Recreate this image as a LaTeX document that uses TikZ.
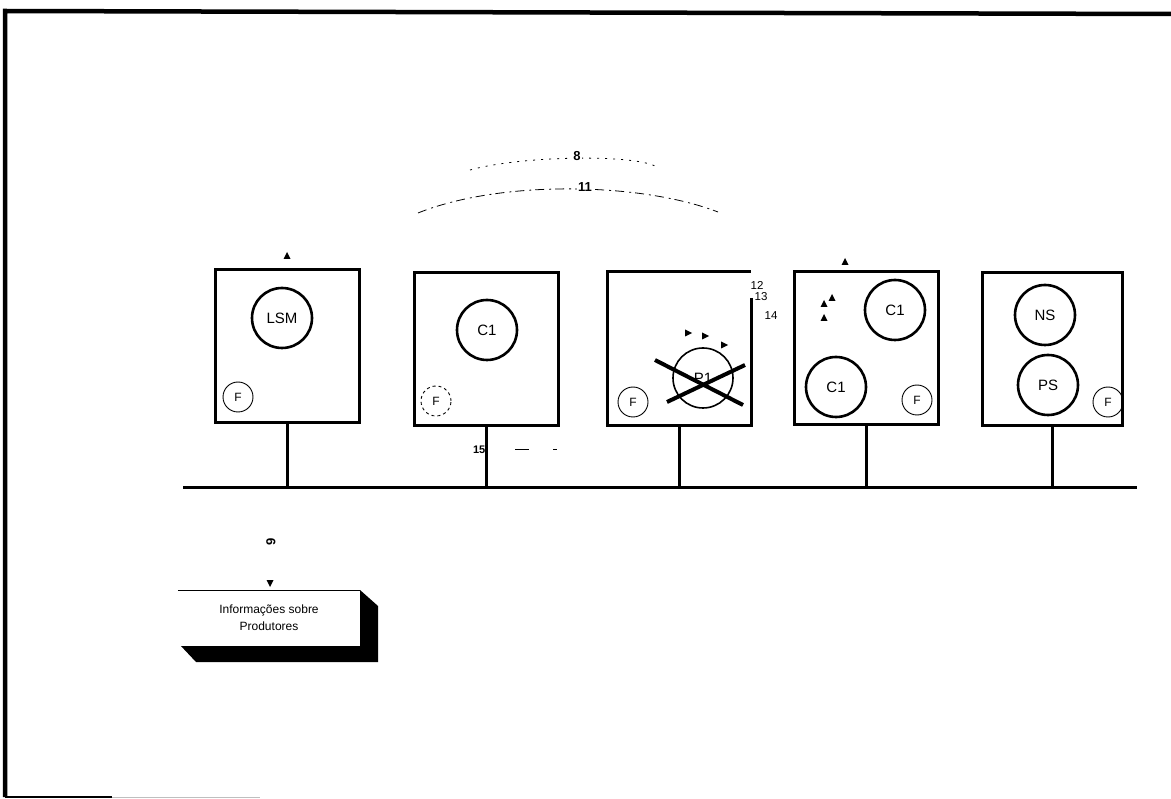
\documentclass[tikz,border=0pt]{standalone}
\usepackage{fontspec}
\setmainfont{Liberation Sans}
\usetikzlibrary{positioning,shapes.geometric}

\tikzset{
  station/.style={draw, line width=3pt, minimum width=144pt,
                  minimum height=153pt, inner sep=0pt},
  proc/.style={draw, circle, line width=2.6pt, minimum size=60pt,
               inner sep=0pt, font=\fontsize{15}{17}\selectfont},
  fport/.style={draw, circle, line width=0.9pt, minimum size=30pt,
                inner sep=0pt, font=\fontsize{12}{14}\selectfont},
  wire/.style={line width=3pt},
  seqlabel/.style={font=\fontsize{13}{15}\selectfont\bfseries},
  smalllabel/.style={font=\fontsize{11.5}{12}\selectfont, inner sep=0pt},
  infobox/.style={fill=white, minimum width=182pt, minimum height=55pt,
                  align=center, inner sep=0pt,
                  font=\fontsize{12}{17}\selectfont}
}

\begin{document}
\begin{tikzpicture}[x=1pt, y=-1pt]
  \useasboundingbox (0,0) rectangle (1171,799);

  %% Frame (open on the right)
  \draw[line width=4.5pt] (5,797) -- (5,11) -- (1171,14);
  \draw[line width=2pt] (5,797) -- (112,797);
  \draw[line width=1pt, black!25] (112,797) -- (260,797);

  %% Bus
  \coordinate (busL) at (183,488);
  \coordinate (busR) at (1137,488);
  \draw[wire] (busL) -- (busR);

  %% Stations
  \node[station] (lsmbox) at (287.5,346.5) {};
  \node[station] (cabox) at (486.5,349.5) {};
  \node[station, draw=none] (pbox) at (679,349) {};
  \node[station] (ccbox) at (866.5,348) {};
  \node[station, minimum width=140pt] (nsbox) at (1052,349.5) {};

  %% third station: right side open at the top
  \draw[line width=3pt] (751,298) |- (607,426) |- (751,272);

  %% Stems to the bus
  \foreach \b in {lsmbox,cabox,pbox,ccbox,nsbox}
    \draw[wire] (\b.south) -- (\b.south |- busL);

  %% Processes
  \node[proc] (lsm) at (282,318) {LSM};
  \node[proc] (ca) at (487,330) {C1};
  \node[proc, line width=1.6pt] (p1) at (703,378) {P1};
  \node[proc] (cb) at (895,310) {C1};
  \node[proc] (cc) at (836,387) {C1};
  \node[proc] (ns) at (1045,315) {NS};
  \node[proc] (ps) at (1048,385) {PS};

  %% F ports
  \node[fport] (f1) at (238,397) {F};
  \node[fport, dashed] (f2) at (436,401) {F};
  \node[fport] (f3) at (633,402) {F};
  \node[fport] (f4) at (917,400) {F};
  \node[fport] (f5) at (1108,402) {F};

  %% P1 crossed out
  \draw[line width=4pt] (655,360) -- (743,405);
  \draw[line width=4pt] (667,402) -- (745,365);

  %% Triangle marks
  \foreach \x/\y in {287/256, 845/262, 824/304, 832/298, 824/318}
    \fill (\x,\y) +(-3.5,3) -- +(3.5,3) -- +(0,-4) -- cycle;
  \foreach \x/\y in {688/333, 705/336, 724/345}
    \fill (\x,\y) +(-3,-3.5) -- +(-3,3.5) -- +(4,0) -- cycle;

  %% Sequence arcs
  \draw[dash pattern=on 2pt off 6pt, line width=0.8pt]
    (470,170) .. controls (520,156) and (630,154) .. (655,166);
  \node[seqlabel, fill=white, inner sep=1pt] (s8) at (577,156) {8};
  \draw[dash pattern=on 9pt off 5pt on 2pt off 4pt, line width=0.8pt]
    (418,213) .. controls (500,180) and (640,182) .. (718,212);
  \node[seqlabel, fill=white, inner sep=1pt] (s11) at (585,187) {11};

  \node[smalllabel] (s12) at (757,285) {12};
  \node[smalllabel] (s13) at (761,297) {13};
  \node[smalllabel] (s14) at (771,316) {14};
  \node[smalllabel, font=\fontsize{11}{12}\selectfont\bfseries,
        left=1pt of cabox.south, yshift=-22pt] (s15) {15};
  \draw[dash pattern=on 14pt off 24pt on 4pt off 20pt, line width=0.8pt]
    (515,449) -- (575,449);

  %% Producer information box
  \fill (360,590) -- (378,606) -- (378,662) -- (196,662) -- (180,645)
    -- (360,645) -- cycle;
  \node[infobox] (info) at (269,618) {Informações sobre\\Produtores};
  \draw[line width=0.8pt] (info.north west) -- (info.north east);
  \node[seqlabel, rotate=90] (s9) at (271,542) {9};
  \fill (270,583) +(-3.5,-3) -- +(3.5,-3) -- +(0,4) -- cycle;
\end{tikzpicture}
\end{document}
